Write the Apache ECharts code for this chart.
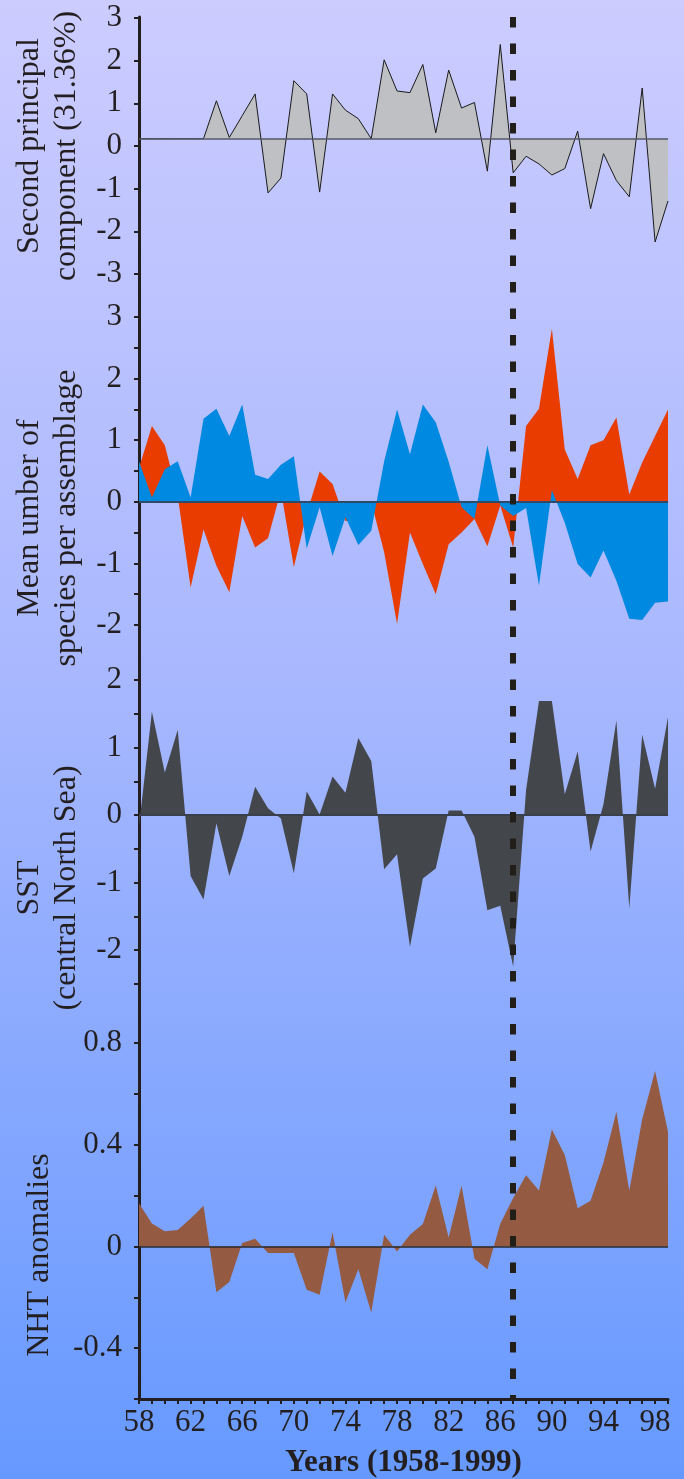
<!DOCTYPE html>
<html><head><meta charset="utf-8">
<script src="https://cdn.jsdelivr.net/npm/echarts@6/dist/echarts.min.js"></script>
<style>html,body{margin:0;padding:0;background:#99b2ff;}#c{width:684px;height:1479px;}</style>
</head><body><div id="c"></div>
<script>
// ---- data ----
const years = ['58','59','60','61','62','63','64','65','66','67','68','69','70','71','72','73','74','75','76','77','78','79','80','81','82','83','84','85','86','87','88','89','90','91','92','93','94','95','96','97','98','99'];
const pc2 = [0.17,0.17,0.17,0.17,0.17,0.17,1.06,0.20,0.71,1.22,-1.10,-0.75,1.53,1.22,-1.08,1.22,0.84,0.64,0.17,2.02,1.29,1.25,1.91,0.31,1.78,0.89,1.02,-0.59,2.38,-0.63,-0.24,-0.42,-0.68,-0.53,0.35,-1.47,-0.18,-0.81,-1.19,1.36,-2.25,-1.29];
const pc2Baseline = 0.17;
const speciesRed = [0.55,1.23,0.92,0.10,-1.39,-0.45,-1.04,-1.47,-0.23,-0.74,-0.59,0.18,-1.06,-0.19,0.49,0.29,-0.31,-0.30,0.0,-0.82,-1.98,-0.50,-1.01,-1.50,-0.69,-0.50,-0.28,-0.72,-0.06,-0.74,1.23,1.51,2.81,0.85,0.37,0.92,1.00,1.37,0.12,0.64,1.07,1.50];
const speciesBlue = [0.66,0.07,0.53,0.66,0.07,1.35,1.51,1.07,1.58,0.44,0.37,0.60,0.74,-0.76,-0.09,-0.88,-0.25,-0.70,-0.47,0.66,1.50,0.77,1.58,1.29,0.65,-0.09,-0.28,0.92,-0.06,-0.23,-0.10,-1.36,0.19,-0.34,-1.01,-1.23,-0.79,-1.28,-1.90,-1.92,-1.64,-1.62];
const sst = [-0.17,1.53,0.63,1.26,-0.90,-1.25,-0.12,-0.90,-0.32,0.42,0.10,-0.05,-0.86,0.35,0.01,0.57,0.33,1.14,0.80,-0.80,-0.58,-1.95,-0.94,-0.79,0.07,0.07,-0.32,-1.41,-1.34,-2.24,0.37,1.69,1.69,0.31,0.94,-0.54,0.16,1.40,-1.38,1.19,0.39,1.45];
const nht = [0.17,0.09,0.06,0.065,0.11,0.16,-0.18,-0.14,0.013,0.03,-0.026,-0.026,-0.026,-0.17,-0.19,0.056,-0.22,-0.09,-0.26,0.046,-0.02,0.046,0.088,0.24,0.035,0.24,-0.048,-0.09,0.089,0.19,0.28,0.22,0.46,0.36,0.15,0.18,0.33,0.53,0.22,0.50,0.69,0.45];
const shiftYear = '87';
const panelNames = ['Second principal\ncomponent (31.36%)','Mean umber of\nspecies per assemblage','SST\n(central North Sea)','NHT anomalies'];
const xTitle = 'Years (1958-1999)';

// ---- chart ----
const FONT = 'Liberation Serif';
const INK = '#231F20';
const chart = echarts.init(document.getElementById('c'), null, {renderer:'canvas'});
const L = 139, R = 16;
const grids = [
  {left:L, right:R, top:18, height:256},
  {left:L, right:R, top:317, height:308},
  {left:L, right:R, top:680, height:304},
  {left:L, right:R, top:1043, height:356},
  {left:L, right:R, top:17, bottom:80}
];
const intLabel = v => (Math.abs(v - Math.round(v)) < 1e-6 ? String(Math.round(v)) : '');
const nhtLabel = v => { const t = Math.round(v*10); return (t % 4 === 0) ? String(t/10) : ''; };
function yAx(i, min, max, interval, fmt, name, nameGap, pad){
  return {
    type:'value', gridIndex:i, min:min, max:max, interval:interval,
    axisLine:{show:false},
    axisTick:{show:true, length:5, lineStyle:{color:INK, width:2}},
    splitLine:{show:false},
    axisLabel:{color:INK, fontFamily:FONT, fontSize:31, margin:17, formatter:fmt},
    name:name, nameLocation:'middle', nameRotate:90, nameGap:nameGap,
    nameTextStyle:{color:INK, fontFamily:FONT, fontSize:32, lineHeight:37, padding:pad}
  };
}
const hiddenX = i => ({type:'category', gridIndex:i, data:years, boundaryGap:false, show:false});
const option = {
  backgroundColor:{type:'linear', x:0, y:0, x2:0, y2:1, colorStops:[
    {offset:0, color:'#CCCCFF'},{offset:0.45, color:'#A9B8FE'},{offset:1, color:'#6699FF'}]},
  animation:false,
  grid:grids,
  xAxis:[hiddenX(0), hiddenX(1), hiddenX(2),
    {type:'category', gridIndex:3, data:years, boundaryGap:false,
     axisLine:{show:true, onZero:false, lineStyle:{color:INK, width:3}},
     axisTick:{show:true, interval:0, length:5, lineStyle:{color:INK, width:2}},
     axisLabel:{interval:3, color:INK, fontFamily:FONT, fontSize:31, margin:8},
     name:xTitle, nameLocation:'middle', nameGap:48,
     nameTextStyle:{color:INK, fontFamily:FONT, fontSize:31, fontWeight:'bold'}},
    hiddenX(4)],
  yAxis:[
    yAx(0, -3, 3, 1, intLabel, panelNames[0], 44, [0,0,0,0]),
    yAx(1, -2, 3, 0.5, intLabel, panelNames[1], 44, [0,94,0,0]),
    yAx(2, -2.5, 2, 0.5, intLabel, panelNames[2], 44, [0,112,0,0]),
    yAx(3, -0.6, 0.8, 0.2, nhtLabel, panelNames[3], 81, [0,68,0,0]),
    {type:'value', gridIndex:4, min:0, max:1, inverse:true,
     axisLine:{show:true, lineStyle:{color:INK, width:3}},
     axisTick:{show:false}, axisLabel:{show:false}, splitLine:{show:false}}
  ],
  series:[
    {type:'line', xAxisIndex:0, yAxisIndex:0, data:pc2, showSymbol:false,
     lineStyle:{color:'#1a1a1a', width:1}, areaStyle:{color:'#BEC0C4', opacity:1, origin:pc2Baseline},
     markLine:{silent:true, symbol:['none','none'], label:{show:false},
       lineStyle:{color:'#555866', width:1.5, type:'solid'}, data:[{yAxis:pc2Baseline}]}},
    {type:'line', xAxisIndex:1, yAxisIndex:1, data:speciesRed, showSymbol:false,
     lineStyle:{width:0}, areaStyle:{color:'#E83C00', opacity:1, origin:0}},
    {type:'line', xAxisIndex:1, yAxisIndex:1, data:speciesBlue, showSymbol:false,
     lineStyle:{width:0}, areaStyle:{color:'#0089E1', opacity:1, origin:0},
     markLine:{silent:true, symbol:['none','none'], label:{show:false},
       lineStyle:{color:'#2E4A66', width:2, type:'solid'}, data:[{yAxis:0}]}},
    {type:'line', xAxisIndex:2, yAxisIndex:2, data:sst, showSymbol:false,
     lineStyle:{width:0}, areaStyle:{color:'#43464A', opacity:1, origin:0},
     markLine:{silent:true, symbol:['none','none'], label:{show:false},
       lineStyle:{color:'#3A3F4C', width:2, type:'solid'}, data:[{yAxis:0}]}},
    {type:'line', xAxisIndex:3, yAxisIndex:3, data:nht, showSymbol:false,
     lineStyle:{width:0}, areaStyle:{color:'#955B42', opacity:1, origin:0},
     markLine:{silent:true, symbol:['none','none'], label:{show:false},
       lineStyle:{color:'#2a2a2a', width:1.5, type:'solid'}, data:[{yAxis:0}]}},
    {type:'line', xAxisIndex:4, yAxisIndex:4, data:[], z:10,
     markLine:{silent:true, symbol:['none','none'], label:{show:false},
       lineStyle:{color:'#221E1A', width:6, type:[10.5,16], dashOffset:0},
       data:[{xAxis:shiftYear}]}}
  ]
};
chart.setOption(option);
</script></body></html>
